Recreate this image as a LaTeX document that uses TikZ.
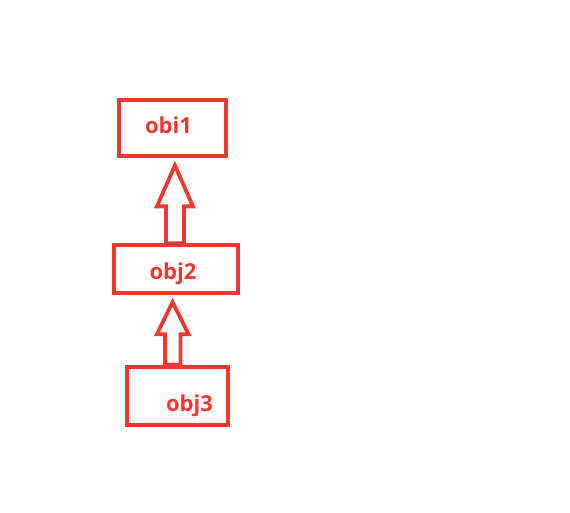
\documentclass[tikz,border=0pt]{standalone}
\usepackage{fontspec}
\setmainfont{Open Sans}
\usetikzlibrary{calc}
\definecolor{boxred}{RGB}{238,56,48}
\tikzset{
  box/.style={draw=boxred, line width=4.2pt, inner sep=0pt, fill=white},
  lbl/.style={text=boxred, font=\fontsize{22}{25}\selectfont\bfseries, anchor=base, inner sep=0pt},
  blockarr/.style={draw=boxred, line width=3.8pt, fill=white, line join=miter},
}
\begin{document}
\begin{tikzpicture}[x=1pt,y=-1pt]
\useasboundingbox (0,0) rectangle (570,513);
\node[box, minimum width=106.4pt, minimum height=56pt] (b1) at (172.5,128.3) {};
\node[box, minimum width=124.3pt, minimum height=47.7pt] (b2) at (175.9,269.2) {};
\node[box, minimum width=101pt, minimum height=57.7pt] (b3) at (177.5,395.8) {};
\node[lbl] (t1) at (168.5,134) {obi1};
\node[lbl] (t2) at (173,279.5) {obj2};
\node[lbl] (t3) at (189.5,411.5) {obj3};
% arrow obj2 -> obi1
\draw[blockarr] let \p1=(b1.south), \p2=(b2.north) in
  (\x2-1pt,\y1-7pt) -- (\x2+17pt,\y1-48pt) -- (\x2+8pt,\y1-48pt) -- (\x2+8pt,\y2)
  -- (\x2-10pt,\y2) -- (\x2-10pt,\y1-48pt) -- (\x2-19pt,\y1-48pt) -- cycle;
% arrow obj3 -> obj2
\draw[blockarr] let \p1=(b2.south), \p2=(b3.north) in
  (\x2-5pt,\y1-7pt) -- (\x2+11pt,\y1-39pt) -- (\x2+3pt,\y1-39pt) -- (\x2+3pt,\y2)
  -- (\x2-12.5pt,\y2) -- (\x2-12.5pt,\y1-39pt) -- (\x2-20.5pt,\y1-39pt) -- cycle;
\end{tikzpicture}
\end{document}
